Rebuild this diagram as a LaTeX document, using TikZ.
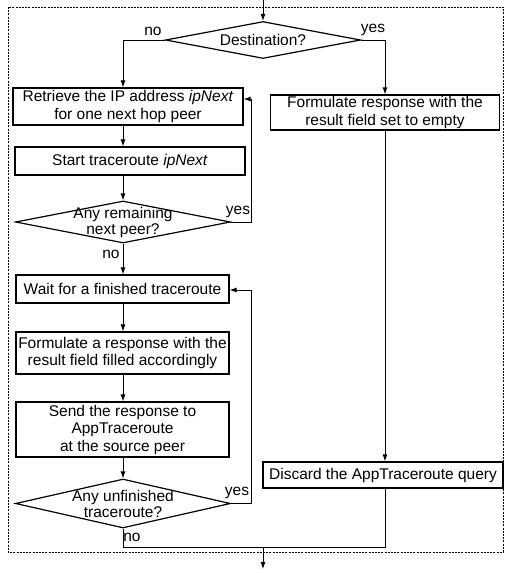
\documentclass[tikz,border=0pt]{standalone}
\usepackage{fontspec}
\setmainfont{Liberation Sans}
\usetikzlibrary{arrows.meta,shapes.geometric}

\begin{document}
\begin{tikzpicture}[x=1pt,y=-1pt,line width=0.9pt,
  box/.style={draw,line width=1.2pt,inner sep=0pt,align=center,font=\fontsize{15.5}{17.5}\selectfont},
  decision/.style={draw,diamond,line width=1.2pt,inner sep=0pt},
  tag/.style={inner sep=0pt,font=\fontsize{15.5}{16}\selectfont},
  flow/.style={-{Latex[length=7pt,width=5pt]}},
  frame/.style={line width=0.6pt,dash pattern=on 2pt off 1.2pt}]

\useasboundingbox (0,0) rectangle (505,573);

% outer frame
\draw[frame] (8,7) rectangle (503,552);

\coordinate (Entry) at (263,0);
\coordinate (LeftCol) at (123,0);
\coordinate (LoopTop) at (251,99);
\coordinate (LoopMid) at (251,290);
\coordinate (Join) at (263,547);
\coordinate (Exit) at (263,569);

% left branch
\node[decision,minimum width=195pt,minimum height=37pt,label={[tag]center:Destination?}] (Destination) at (263,40) {};
\node[box,minimum width=230pt,minimum height=37pt] (Retrieve) at (128,106.5) {Retrieve the IP address \textit{ipNext}\\for one next hop peer};
\node[box,minimum width=230pt,minimum height=28pt] (StartTrace) at (130,161) {Start traceroute \textit{ipNext}};
\node[decision,minimum width=215pt,minimum height=42pt,label={[tag,align=center]center:Any remaining\\next peer?}] (AnyRemaining) at (123,222) {};
\node[box,minimum width=213pt,minimum height=28pt] (WaitTrace) at (122.5,289) {Wait for a finished traceroute};
\node[box,minimum width=213pt,minimum height=42pt] (FormulateFilled) at (122.5,353) {Formulate a response with the\\result field filled accordingly};
\node[box,minimum width=213pt,minimum height=55pt] (SendResponse) at (122.5,429.5) {Send the response to\\AppTraceroute\\at the source peer};
\node[decision,minimum width=215pt,minimum height=49pt,label={[tag,align=center]center:Any unfinished\\traceroute?}] (AnyUnfinished) at (123,503.5) {};

% right branch
\node[box,minimum width=229pt,minimum height=35pt] (FormulateEmpty) at (385,112.5) {Formulate response with the\\result field set to empty};
\node[box,minimum width=240pt,minimum height=26pt] (DiscardQuery) at (383,475) {Discard the AppTraceroute query};

% labels
\node[tag] (NoDest) at (153,31) {no};
\node[tag] (YesDest) at (373,30) {yes};
\node[tag] (YesRemaining) at (238,212) {yes};
\node[tag] (NoRemaining) at (111,254) {no};
\node[tag] (YesUnfinished) at (237,493) {yes};
\node[tag] (NoUnfinished) at (132,537) {no};

\draw[flow] (Entry) -- (Destination.north);
\draw[flow] (Destination.west) -| (LeftCol |- Retrieve.north);
\draw[flow] (Destination.east) -| (FormulateEmpty.north);

\draw[flow] (LeftCol |- Retrieve.south) -- (LeftCol |- StartTrace.north);
\draw[flow] (LeftCol |- StartTrace.south) -- (AnyRemaining.north);
\draw[flow] (AnyRemaining.south) -- (WaitTrace.north -| LeftCol);
\draw[flow] (LeftCol |- WaitTrace.south) -- (LeftCol |- FormulateFilled.north);
\draw[flow] (LeftCol |- FormulateFilled.south) -- (LeftCol |- SendResponse.north);
\draw[flow] (LeftCol |- SendResponse.south) -- (AnyUnfinished.north);

\draw[flow] (AnyRemaining.east) -| (LoopTop) -- (Retrieve.east |- LoopTop);
\draw[flow] (AnyUnfinished.east) -| (LoopMid) -- (WaitTrace.east |- LoopMid);

\draw[flow] (FormulateEmpty.south) -- (FormulateEmpty.south |- DiscardQuery.north);
\draw (AnyUnfinished.south) |- (FormulateEmpty.south |- Join) -- (FormulateEmpty.south |- DiscardQuery.south);
\draw[flow] (Join) -- (Exit);

\end{tikzpicture}
\end{document}
